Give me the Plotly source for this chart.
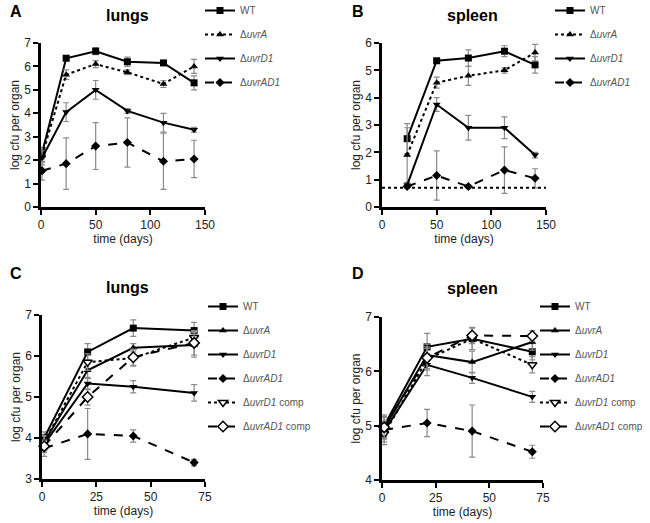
import plotly.graph_objects as go

# ---- data ----
# A/B: wild type and uvr mutants over 140 days
days_ab = [1, 23, 50, 79, 112, 140]
days_b = [23, 50, 79, 112, 140]

lungs_wt = [2.3, 6.35, 6.65, 6.2, 6.15, 5.3]
lungs_wt_err = [0.25, 0.1, 0.15, 0.2, 0.1, 0.3]
lungs_uvrA = [2.2, 5.65, 6.1, 5.75, 5.25, 6.0]
lungs_uvrA_err = [0.3, 0.2, 0.15, 0.1, 0.15, 0.3]
lungs_uvrD1 = [2.1, 4.05, 5.0, 4.1, 3.6, 3.3]
lungs_uvrD1_err = [0.3, 0.4, 0.4, 0.1, 0.4, 0.1]
lungs_uvrAD1 = [1.55, 1.85, 2.6, 2.75, 1.95, 2.05]
lungs_uvrAD1_err = [0.4, 1.1, 1.0, 1.05, 1.2, 0.8]

spleen_wt = [2.5, 5.35, 5.45, 5.7, 5.2]
spleen_wt_err = [0.55, 0.05, 0.3, 0.2, 0.3]
spleen_uvrA = [1.9, 4.55, 4.8, 5.0, 5.65]
spleen_uvrA_err = [1.0, 0.2, 0.35, 0.1, 0.3]
spleen_uvrD1 = [0.8, 3.75, 2.9, 2.9, 1.9]
spleen_uvrD1_err = [0.05, 0.25, 0.45, 0.4, 0.1]
spleen_uvrAD1 = [0.75, 1.15, 0.75, 1.35, 1.05]
spleen_uvrAD1_err = [0.05, 0.9, 0.05, 0.85, 0.35]
detection_limit = 0.7

# C/D: complemented strains over 70 days
days_cd = [1, 21, 42, 70]

c_wt = [4.0, 6.1, 6.68, 6.62]
c_uvrA = [3.9, 5.65, 6.2, 6.27]
c_uvrD1 = [3.85, 5.33, 5.25, 5.1]
c_uvrAD1 = [3.75, 4.1, 4.05, 3.4]
c_uvrD1_comp = [3.9, 5.85, 5.95, 6.45]
c_uvrAD1_comp = [3.8, 5.0, 5.97, 6.32]
c_wt_err = [0.15, 0.2, 0.2, 0.2]
c_uvrA_err = [0.15, 0.2, 0.1, 0.3]
c_uvrD1_err = [0.2, 0.15, 0.15, 0.2]
c_uvrAD1_err = [0.2, 0.62, 0.15, 0.08]
c_uvrD1_comp_err = [0.15, 0.2, 0.2, 0.15]
c_uvrAD1_comp_err = [0.15, 0.2, 0.2, 0.3]

d_wt = [5.0, 6.45, 6.6, 6.36]
d_uvrA = [4.95, 6.3, 6.17, 6.54]
d_uvrD1 = [4.9, 6.12, 5.88, 5.53]
d_uvrAD1 = [4.92, 5.05, 4.9, 4.52]
d_uvrD1_comp = [4.85, 6.22, 6.6, 6.12]
d_uvrAD1_comp = [4.97, 6.25, 6.66, 6.65]
d_wt_err = [0.2, 0.25, 0.2, 0.15]
d_uvrA_err = [0.2, 0.2, 0.2, 0.15]
d_uvrD1_err = [0.2, 0.2, 0.1, 0.1]
d_uvrAD1_err = [0.15, 0.25, 0.48, 0.12]
d_uvrD1_comp_err = [0.2, 0.2, 0.2, 0.15]
d_uvrAD1_comp_err = [0.2, 0.2, 0.15, 0.1]

LBL_WT = "WT"
LBL_A = "Δ<i>uvrA</i>"
LBL_D1 = "Δ<i>uvrD1</i>"
LBL_AD1 = "Δ<i>uvrAD1</i>"
LBL_D1C = "Δ<i>uvrD1</i> comp"
LBL_AD1C = "Δ<i>uvrAD1</i> comp"

W, H = 650, 523
FONT = "Liberation Sans, Arial, sans-serif"
ERR_COLOR = "#8a8a8a"


def px_x(p):
    return p / W


def px_y(p):
    return 1 - p / H


fig = go.Figure()


def add_series(x, y, err, name, xa, ya, legend, dash, symbol, open_marker=False, size=7):
    marker = dict(symbol=symbol, size=size, color="white" if open_marker else "black",
                  line=dict(color="black", width=1.5 if open_marker else 0))
    fig.add_trace(go.Scatter(
        x=x, y=y, name=name, mode="lines+markers",
        xaxis=xa, yaxis=ya, legend=legend, legendgroup=legend + name,
        line=dict(color="black", width=2, dash=dash),
        marker=marker, cliponaxis=False,
        error_y=dict(type="data", array=err, color=ERR_COLOR, thickness=1.2, width=3),
    ))


# Panel A
add_series(days_ab, lungs_wt, lungs_wt_err, LBL_WT, "x", "y", "legend", "solid", "square")
add_series(days_ab, lungs_uvrA, lungs_uvrA_err, LBL_A, "x", "y", "legend", "dot", "triangle-up")
add_series(days_ab, lungs_uvrD1, lungs_uvrD1_err, LBL_D1, "x", "y", "legend", "solid", "triangle-down")
add_series(days_ab, lungs_uvrAD1, lungs_uvrAD1_err, LBL_AD1, "x", "y", "legend", "dash", "diamond")

# Panel B
add_series(days_b, spleen_wt, spleen_wt_err, LBL_WT, "x2", "y2", "legend2", "solid", "square")
add_series(days_b, spleen_uvrA, spleen_uvrA_err, LBL_A, "x2", "y2", "legend2", "dot", "triangle-up")
add_series(days_b, spleen_uvrD1, spleen_uvrD1_err, LBL_D1, "x2", "y2", "legend2", "solid", "triangle-down")
add_series(days_b, spleen_uvrAD1, spleen_uvrAD1_err, LBL_AD1, "x2", "y2", "legend2", "dash", "diamond")

# Panel C
add_series(days_cd, c_wt, c_wt_err, LBL_WT, "x3", "y3", "legend3", "solid", "square")
add_series(days_cd, c_uvrA, c_uvrA_err, LBL_A, "x3", "y3", "legend3", "solid", "triangle-up")
add_series(days_cd, c_uvrD1, c_uvrD1_err, LBL_D1, "x3", "y3", "legend3", "solid", "triangle-down")
add_series(days_cd, c_uvrAD1, c_uvrAD1_err, LBL_AD1, "x3", "y3", "legend3", "dash", "diamond")
add_series(days_cd, c_uvrD1_comp, c_uvrD1_comp_err, LBL_D1C, "x3", "y3", "legend3", "dot", "triangle-down", True, 8)
add_series(days_cd, c_uvrAD1_comp, c_uvrAD1_comp_err, LBL_AD1C, "x3", "y3", "legend3", "dash", "diamond", True, 8)

# Panel D
add_series(days_cd, d_wt, d_wt_err, LBL_WT, "x4", "y4", "legend4", "solid", "square")
add_series(days_cd, d_uvrA, d_uvrA_err, LBL_A, "x4", "y4", "legend4", "solid", "triangle-up")
add_series(days_cd, d_uvrD1, d_uvrD1_err, LBL_D1, "x4", "y4", "legend4", "solid", "triangle-down")
add_series(days_cd, d_uvrAD1, d_uvrAD1_err, LBL_AD1, "x4", "y4", "legend4", "dash", "diamond")
add_series(days_cd, d_uvrD1_comp, d_uvrD1_comp_err, LBL_D1C, "x4", "y4", "legend4", "dot", "triangle-down", True, 8)
add_series(days_cd, d_uvrAD1_comp, d_uvrAD1_comp_err, LBL_AD1C, "x4", "y4", "legend4", "dash", "diamond", True, 8)

# detection limit in spleen
fig.add_shape(type="line", xref="x2 domain", yref="y2", x0=0, x1=1,
              y0=detection_limit, y1=detection_limit,
              line=dict(color="black", width=2, dash="dot"))

axis_style = dict(showline=True, linecolor="black", linewidth=2.5, ticks="outside",
                  ticklen=5, tickwidth=2, tickcolor="black", showgrid=False, zeroline=False,
                  tickfont=dict(size=12, color="#222"), title_font=dict(size=12, color="#222"),
                  title_standoff=2, automargin=False)

# panel boxes in pixels: (x0, x1, ytop, ybottom)
boxes = {
    "": (41, 205, 43, 207),
    "2": (382, 546, 43, 207),
    "3": (42, 205, 315, 479),
    "4": (382, 543, 317, 480),
}
xranges = {"": [0, 150], "2": [0, 150], "3": [0, 75], "4": [0, 75]}
xdticks = {"": 50, "2": 50, "3": 25, "4": 25}
yranges = {"": [0, 7], "2": [0, 6], "3": [3, 7], "4": [4, 7]}

layout = {}
for k, (x0, x1, yt, yb) in boxes.items():
    layout["xaxis" + k] = dict(axis_style, domain=[px_x(x0), px_x(x1)], range=xranges[k],
                               dtick=xdticks[k], anchor="y" + k, title_text="time (days)")
    layout["yaxis" + k] = dict(axis_style, domain=[px_y(yb), px_y(yt)], range=yranges[k],
                               dtick=1, anchor="x" + k, title_text="log cfu per organ")
fig.update_layout(**layout)

legend_style = dict(font=dict(size=10, color="#555", family=FONT), bgcolor="rgba(0,0,0,0)",
                    tracegroupgap=5, xanchor="left", yanchor="top", itemwidth=30)
fig.update_layout(
    legend=dict(legend_style, x=px_x(200), y=px_y(-4)),
    legend2=dict(legend_style, x=px_x(550), y=px_y(-4)),
    legend3=dict(legend_style, x=px_x(203), y=px_y(292)),
    legend4=dict(legend_style, x=px_x(535), y=px_y(292)),
)

# panel letters and titles
for txt, x, y in [("A", 8, 11), ("B", 350, 11), ("C", 8, 273), ("D", 350, 273)]:
    fig.add_annotation(text="<b>%s</b>" % txt, x=px_x(x), y=px_y(y), xref="paper", yref="paper",
                       showarrow=False, xanchor="left", yanchor="middle", font=dict(size=16, color="black"))
for txt, x, y in [("lungs", 127, 16), ("spleen", 472, 16), ("lungs", 127, 287), ("spleen", 472, 288)]:
    fig.add_annotation(text="<b>%s</b>" % txt, x=px_x(x), y=px_y(y), xref="paper", yref="paper",
                       showarrow=False, xanchor="center", yanchor="middle", font=dict(size=16, color="black"))

fig.update_layout(
    width=W, height=H,
    margin=dict(l=0, r=0, t=0, b=0, autoexpand=False),
    paper_bgcolor="white", plot_bgcolor="white",
    font=dict(family=FONT, color="#222"),
)

# drop the default page margin so the figure sits at the window origin
fig.write_html("out.html", config={"displayModeBar": False},
               post_script="document.body.style.margin='0';")
